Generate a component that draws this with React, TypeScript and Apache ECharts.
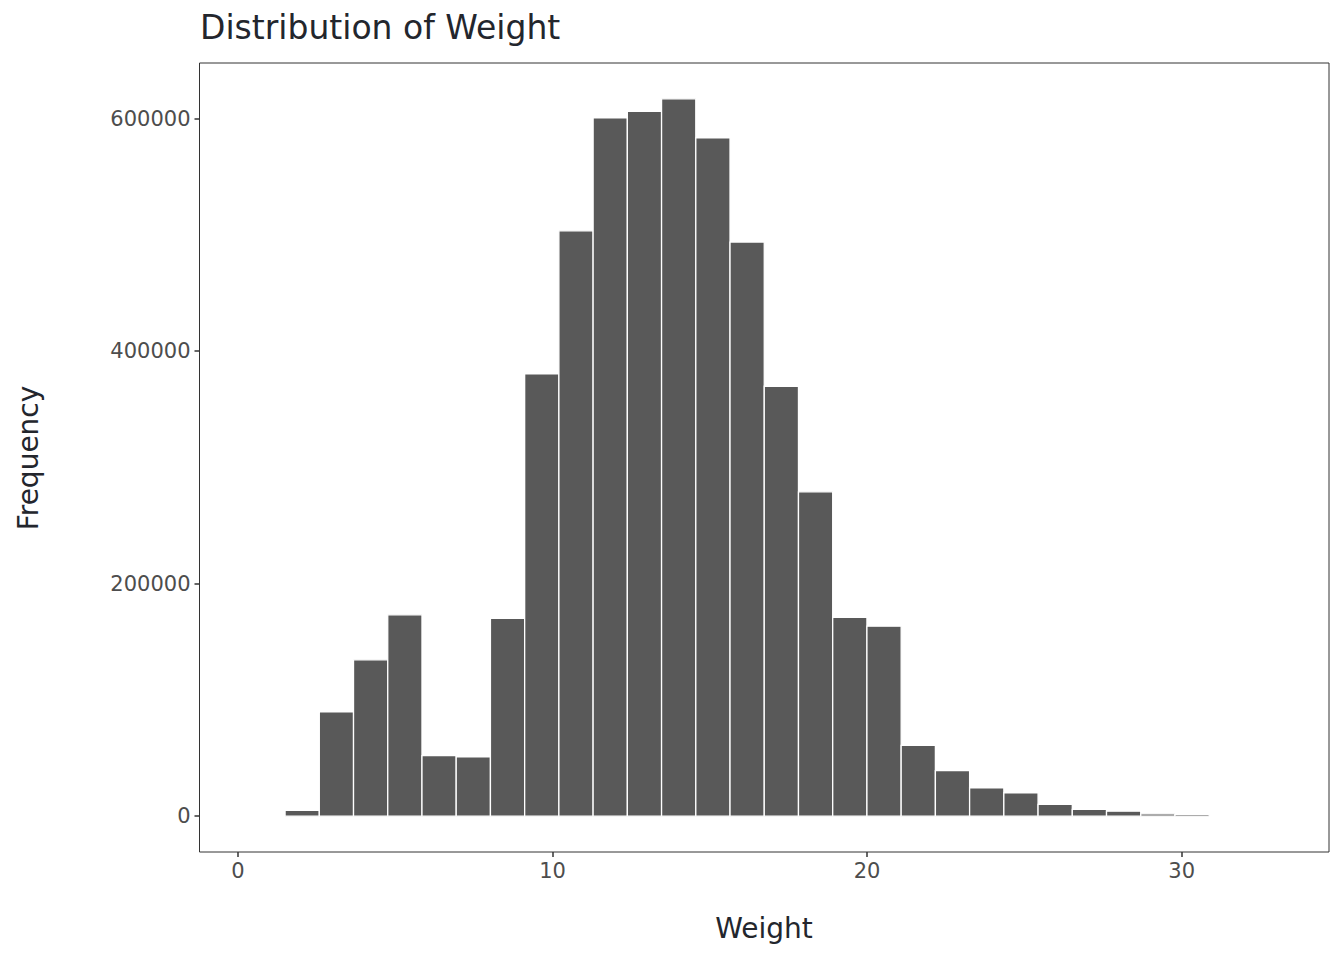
import React, { useEffect, useRef } from "react";
import * as echarts from "echarts";

// Histogram bins (30 bins, ggplot-style)
const binStart = 0.41;
const binWidth = 1.088;
const counts = [
  0, 5000, 89800, 134500, 173200, 52000, 51100, 170200, 380400, 503500,
  600600, 606300, 617000, 583400, 493800, 369800, 279000, 171100, 163400, 60900,
  39100, 24400, 20100, 10100, 5800, 4300, 2000, 1500, 0, 0,
];
const xTicks = [0, 10, 20, 30];
const yTicks = [0, 200000, 400000, 600000];
const titleText = "Distribution of Weight";
const xName = "Weight";
const yName = "Frequency";

const FONT = "'DejaVu Sans', sans-serif";

export default function App() {
  const ref = useRef<HTMLDivElement>(null);

  useEffect(() => {
    if (!ref.current) return;
    const chart = echarts.init(ref.current, undefined, { renderer: "svg" });

    const data = counts.map((c, i) => [
      binStart + i * binWidth,
      binStart + (i + 1) * binWidth,
      c,
    ]);
    const xLo = binStart;
    const xHi = binStart + counts.length * binWidth;
    const xPad = (xHi - xLo) * 0.05;
    const yMaxData = Math.max(...counts);
    const yPad = yMaxData * 0.05;

    chart.setOption({
      animation: false,
      backgroundColor: "#ffffff",
      grid: {
        left: 199.5,
        top: 63,
        right: 15,
        bottom: 108,
        show: true,
        borderColor: "#333333",
        borderWidth: 1,
        backgroundColor: "#ffffff",
      },
      xAxis: {
        type: "value",
        min: xLo - xPad,
        max: xHi + xPad,
        axisLine: { show: false, onZero: false },
        splitLine: { show: false },
        axisTick: {
          show: true,
          length: 5,
          customValues: xTicks,
          lineStyle: { color: "#333333", width: 1.5 },
        },
        axisLabel: {
          customValues: xTicks,
          formatter: (v: number) => String(v),
          color: "#4d4d4d",
          fontSize: 21,
          fontFamily: FONT,
          margin: 8,
        },
      },
      yAxis: {
        type: "value",
        min: -yPad,
        max: yMaxData + yPad,
        axisLine: { show: false, onZero: false },
        splitLine: { show: false },
        axisTick: {
          show: true,
          length: 5,
          customValues: yTicks,
          lineStyle: { color: "#333333", width: 1.5 },
        },
        axisLabel: {
          customValues: yTicks,
          formatter: (v: number) => String(v),
          color: "#4d4d4d",
          fontSize: 21,
          fontFamily: FONT,
          margin: 9,
        },
      },
      series: [
        {
          type: "custom",
          data,
          encode: { x: [0, 1], y: 2 },
          renderItem: (params: any, api: any) => {
            const p0 = api.coord([api.value(0), api.value(2)]);
            const p1 = api.coord([api.value(1), 0]);
            return {
              type: "rect",
              shape: {
                x: p0[0],
                y: p0[1],
                width: p1[0] - p0[0],
                height: p1[1] - p0[1],
              },
              style: { fill: "#595959", stroke: "#ffffff", lineWidth: 1.3 },
            };
          },
        },
      ],
      graphic: [
        {
          type: "text",
          x: 200,
          y: 27,
          style: {
            text: titleText,
            font: `33px ${FONT}`,
            fill: "#23262d",
            textAlign: "left",
            textVerticalAlign: "middle",
          },
        },
        {
          type: "text",
          x: 764,
          y: 928,
          style: {
            text: xName,
            font: `28px ${FONT}`,
            fill: "#23262d",
            textAlign: "center",
            textVerticalAlign: "middle",
          },
        },
        {
          type: "text",
          x: 28,
          y: 458,
          rotation: Math.PI / 2,
          style: {
            text: yName,
            font: `28px ${FONT}`,
            fill: "#23262d",
            textAlign: "center",
            textVerticalAlign: "middle",
          },
        },
      ],
    });

    return () => chart.dispose();
  }, []);

  return (
    <div
      ref={ref}
      style={{ position: "absolute", left: 0, top: 0, width: 1344, height: 960 }}
    />
  );
}
